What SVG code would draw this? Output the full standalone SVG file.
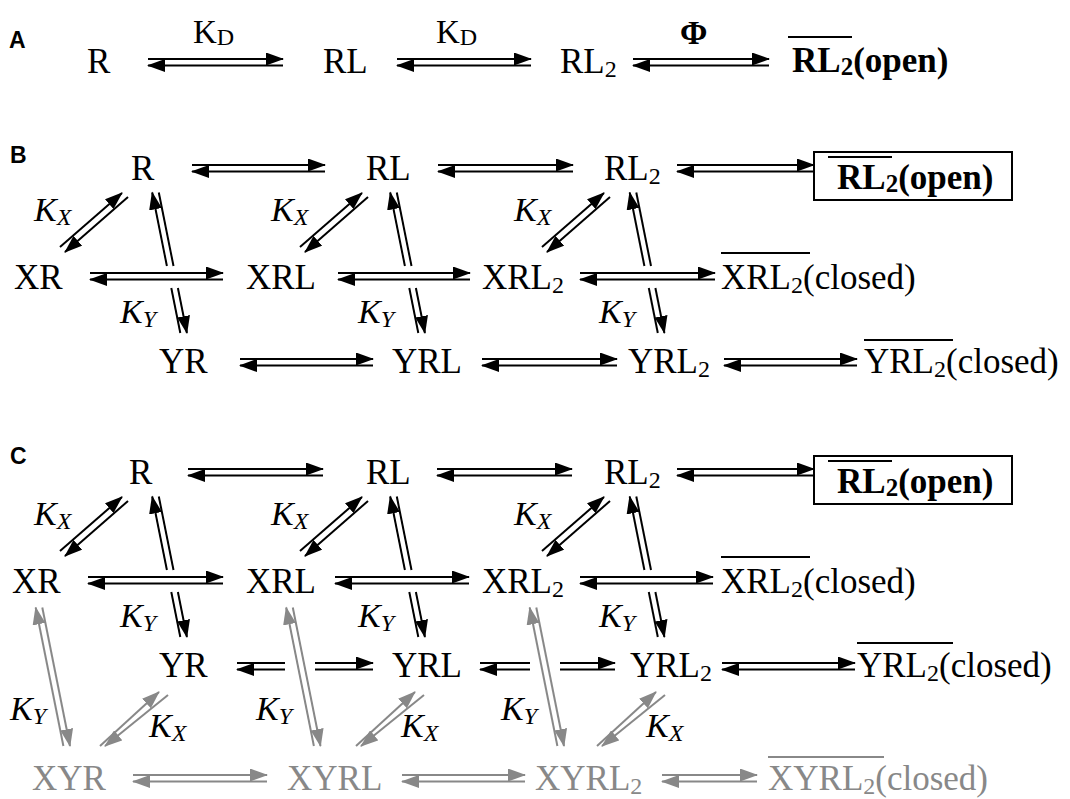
<svg xmlns="http://www.w3.org/2000/svg" width="1070" height="799" viewBox="0 0 1070 799">
<defs>
<style>
.t{font-family:"Liberation Serif","Times New Roman",serif;font-size:35px;fill:#000}
.b{font-weight:bold}
.g{fill:#888}
.k{font-family:"Liberation Serif","Times New Roman",serif;font-style:italic;font-size:34px;fill:#000}
.kd{font-family:"Liberation Serif","Times New Roman",serif;font-size:33px;fill:#000}
.lab{font-family:"Liberation Sans",Arial,sans-serif;font-weight:bold;font-size:23px;fill:#000}
.a{stroke:#000;stroke-width:2;fill:none;marker-end:url(#h)}
.p{stroke:#000;stroke-width:2;fill:none}
.ag{stroke:#888;stroke-width:2;fill:none;marker-end:url(#hg)}
.pg{stroke:#888;stroke-width:2;fill:none}
.ov{stroke:#000;stroke-width:2}
.ovg{stroke:#888;stroke-width:2}
.box{fill:none;stroke:#000;stroke-width:2}
</style>
<marker id="h" viewBox="0 0 18 13" refX="17" refY="6.5" markerWidth="18" markerHeight="13" markerUnits="userSpaceOnUse" orient="auto"><path d="M0,0 L18,6.5 L0,13 z" fill="#000"/></marker>
<marker id="hg" viewBox="0 0 18 13" refX="17" refY="6.5" markerWidth="18" markerHeight="13" markerUnits="userSpaceOnUse" orient="auto"><path d="M0,0 L18,6.5 L0,13 z" fill="#888"/></marker>
</defs>
<rect width="1070" height="799" fill="#fff"/>

<g id="panel-labels">
<text class="lab" x="9" y="48">A</text>
<text class="lab" x="10" y="163">B</text>
<text class="lab" x="10" y="464">C</text>
</g>

<!-- ===== Panel A nodes ===== -->
<g id="A-R"><text class="t" x="87" y="73">R</text></g>
<g id="A-RL"><text class="t" x="323" y="73">RL</text></g>
<g id="A-RL2"><text class="t" x="560" y="73">RL<tspan font-size="24" dy="4">2</tspan></text></g>
<g id="A-RL2open"><line class="ov" x1="788" y1="37" x2="852" y2="37"/><text class="t b" x="792" y="72">RL<tspan font-size="25" dy="3">2</tspan><tspan dy="-3">(open)</tspan></text></g>

<!-- ===== Panel B nodes ===== -->
<g id="B-R"><text class="t" x="131" y="180">R</text></g>
<g id="B-RL"><text class="t" x="366" y="180">RL</text></g>
<g id="B-RL2"><text class="t" x="604" y="180">RL<tspan font-size="24" dy="4">2</tspan></text></g>
<g id="B-RL2open"><rect class="box" x="814" y="152" width="198" height="48"/><line class="ov" x1="828" y1="157" x2="892" y2="157"/><text class="t b" x="837" y="189" font-size="36">RL<tspan font-size="25" dy="3">2</tspan><tspan dy="-3">(open)</tspan></text></g>
<g id="B-XR"><text class="t" x="14" y="289">XR</text></g>
<g id="B-XRL"><text class="t" x="246" y="289">XRL</text></g>
<g id="B-XRL2"><text class="t" x="482" y="289">XRL<tspan font-size="24" dy="4">2</tspan></text></g>
<g id="B-XRL2closed"><line class="ov" x1="721" y1="253" x2="810" y2="253"/><text class="t" x="721" y="289">XRL<tspan font-size="24" dy="4">2</tspan><tspan dy="-4">(closed)</tspan></text></g>
<g id="B-YR"><text class="t" x="159" y="373">YR</text></g>
<g id="B-YRL"><text class="t" x="392" y="373">YRL</text></g>
<g id="B-YRL2"><text class="t" x="628" y="373">YRL<tspan font-size="24" dy="4">2</tspan></text></g>
<g id="B-YRL2closed"><line class="ov" x1="864" y1="340" x2="953" y2="340"/><text class="t" x="864" y="373">YRL<tspan font-size="24" dy="4">2</tspan><tspan dy="-4">(closed)</tspan></text></g>

<!-- ===== Panel C nodes ===== -->
<g id="C-R"><text class="t" x="129" y="484">R</text></g>
<g id="C-RL"><text class="t" x="366" y="484">RL</text></g>
<g id="C-RL2"><text class="t" x="604" y="484">RL<tspan font-size="24" dy="4">2</tspan></text></g>
<g id="C-RL2open"><rect class="box" x="814" y="456" width="198" height="48"/><line class="ov" x1="828" y1="461" x2="892" y2="461"/><text class="t b" x="837" y="493" font-size="36">RL<tspan font-size="25" dy="3">2</tspan><tspan dy="-3">(open)</tspan></text></g>
<g id="C-XR"><text class="t" x="12" y="593">XR</text></g>
<g id="C-XRL"><text class="t" x="246" y="593">XRL</text></g>
<g id="C-XRL2"><text class="t" x="482" y="593">XRL<tspan font-size="24" dy="4">2</tspan></text></g>
<g id="C-XRL2closed"><line class="ov" x1="721" y1="557" x2="810" y2="557"/><text class="t" x="721" y="593">XRL<tspan font-size="24" dy="4">2</tspan><tspan dy="-4">(closed)</tspan></text></g>
<g id="C-YR"><text class="t" x="159" y="677">YR</text></g>
<g id="C-YRL"><text class="t" x="392" y="677">YRL</text></g>
<g id="C-YRL2"><text class="t" x="630" y="677">YRL<tspan font-size="24" dy="4">2</tspan></text></g>
<g id="C-YRL2closed"><line class="ov" x1="857" y1="643" x2="953" y2="643"/><text class="t" x="857" y="677">YRL<tspan font-size="24" dy="4">2</tspan><tspan dy="-4">(closed)</tspan></text></g>
<g id="C-XYR"><text class="t g" x="32" y="790">XYR</text></g>
<g id="C-XYRL"><text class="t g" x="287" y="790">XYRL</text></g>
<g id="C-XYRL2"><text class="t g" x="535" y="790">XYRL<tspan font-size="24" dy="4">2</tspan></text></g>
<g id="C-XYRL2closed"><line class="ovg" x1="768" y1="757" x2="884" y2="757"/><text class="t g" x="768" y="790">XYRL<tspan font-size="24" dy="4">2</tspan><tspan dy="-4">(closed)</tspan></text></g>

<!-- ===== Connectors ===== -->
<g id="connectors">
<!-- Panel A -->
<path class="a" d="M148,59 H283"/><path class="a" d="M283,65.5 H148"/>
<path class="a" d="M397,59 H531"/><path class="a" d="M531,65.5 H397"/>
<path class="a" d="M633,59 H769"/><path class="a" d="M769,65.5 H633"/>

<!-- Panel B horizontals -->
<path class="a" d="M192,165 H325"/><path class="a" d="M325,171.5 H192"/>
<path class="a" d="M438,165 H573"/><path class="a" d="M573,171.5 H438"/>
<path class="a" d="M677,165 H814"/><path class="a" d="M814,171.5 H677"/>
<path class="a" d="M90,273 H223"/><path class="a" d="M223,279.5 H90"/>
<path class="a" d="M338,273 H470"/><path class="a" d="M470,279.5 H338"/>
<path class="a" d="M580,273 H715"/><path class="a" d="M715,279.5 H580"/>
<path class="a" d="M240,359 H373"/><path class="a" d="M373,365.5 H240"/>
<path class="a" d="M482,359 H617"/><path class="a" d="M617,365.5 H482"/>
<path class="a" d="M724,359 H857"/><path class="a" d="M857,365.5 H724"/>

<!-- Panel B diagonals (K_X) -->
<path class="a" d="M60,247 L122,193"/><path class="a" d="M128,197 L65,252"/>
<path class="a" d="M300,247 L362,193"/><path class="a" d="M368,197 L305,252"/>
<path class="a" d="M542,247 L604,193"/><path class="a" d="M610,197 L547,252"/>

<!-- Panel B verticals (K_Y) -->
<path class="a" d="M166.9,266 L152.2,192.5"/><path class="p" d="M158.8,192.5 L173.5,266"/>
<path class="p" d="M171.3,288 L180.3,333"/><path class="a" d="M177.9,288 L186.9,333"/>
<path class="a" d="M404.9,266 L390.2,192.5"/><path class="p" d="M396.8,192.5 L411.5,266"/>
<path class="p" d="M409.3,288 L418.3,333"/><path class="a" d="M415.9,288 L424.9,333"/>
<path class="a" d="M644.4,266 L629.7,192.5"/><path class="p" d="M636.3,192.5 L651,266"/>
<path class="p" d="M648.8,288 L657.8,333"/><path class="a" d="M655.4,288 L664.4,333"/>

<!-- Panel C horizontals -->
<path class="a" d="M188,469 H323"/><path class="a" d="M323,475.5 H188"/>
<path class="a" d="M437,469 H572"/><path class="a" d="M572,475.5 H437"/>
<path class="a" d="M677,469 H814"/><path class="a" d="M814,475.5 H677"/>
<path class="a" d="M88,577 H223"/><path class="a" d="M223,583.5 H88"/>
<path class="a" d="M335,577 H469"/><path class="a" d="M469,583.5 H335"/>
<path class="a" d="M580,577 H713"/><path class="a" d="M713,583.5 H580"/>
<path class="p" d="M237,663 H285"/><path class="a" d="M285,669.5 H237"/>
<path class="a" d="M315,663 H373"/><path class="p" d="M315,669.5 H373"/>
<path class="p" d="M480,663 H530"/><path class="a" d="M530,669.5 H480"/>
<path class="a" d="M560,663 H615"/><path class="p" d="M560,669.5 H615"/>
<path class="a" d="M722,663 H855"/><path class="a" d="M855,669.5 H722"/>
<path class="ag" d="M133,775 H267"/><path class="ag" d="M267,781.5 H133"/>
<path class="ag" d="M402,775 H525"/><path class="ag" d="M525,781.5 H402"/>
<path class="ag" d="M662,775 H757"/><path class="ag" d="M757,781.5 H662"/>

<!-- Panel C black diagonals -->
<path class="a" d="M60,551 L122,497"/><path class="a" d="M128,501 L65,556"/>
<path class="a" d="M300,551 L362,497"/><path class="a" d="M368,501 L305,556"/>
<path class="a" d="M542,551 L604,497"/><path class="a" d="M610,501 L547,556"/>

<!-- Panel C black verticals -->
<path class="a" d="M166.9,570 L152.2,496.5"/><path class="p" d="M158.8,496.5 L173.5,570"/>
<path class="p" d="M171.3,592 L180.3,637"/><path class="a" d="M177.9,592 L186.9,637"/>
<path class="a" d="M404.9,570 L390.2,496.5"/><path class="p" d="M396.8,496.5 L411.5,570"/>
<path class="p" d="M409.3,592 L418.3,637"/><path class="a" d="M415.9,592 L424.9,637"/>
<path class="a" d="M644.4,570 L629.7,496.5"/><path class="p" d="M636.3,496.5 L651,570"/>
<path class="p" d="M648.8,592 L657.8,637"/><path class="a" d="M655.4,592 L664.4,637"/>

<!-- Panel C gray verticals -->
<path class="ag" d="M63.4,746 L35.7,607.5"/><path class="ag" d="M42.3,607.5 L70,746"/>
<path class="ag" d="M313.9,746 L286.2,607.5"/><path class="ag" d="M292.8,607.5 L320.5,746"/>
<path class="ag" d="M557.4,746 L529.7,607.5"/><path class="ag" d="M536.3,607.5 L564,746"/>

<!-- Panel C gray diagonals -->
<path class="ag" d="M100,746 L159,692"/><path class="ag" d="M168,695 L105,746"/>
<path class="ag" d="M356,746 L415,692"/><path class="ag" d="M424,695 L361,746"/>
<path class="ag" d="M597,746 L656,692"/><path class="ag" d="M665,695 L602,746"/>

<!-- Rate constant labels -->
<text class="kd" x="193" y="43">K<tspan font-size="24" dy="2">D</tspan></text>
<text class="kd" x="436" y="43">K<tspan font-size="24" dy="2">D</tspan></text>
<text class="kd b" x="680" y="44" font-size="34">Φ</text>

<text class="k" x="34" y="221">K<tspan font-size="24" dy="4">X</tspan></text>
<text class="k" x="271" y="221">K<tspan font-size="24" dy="4">X</tspan></text>
<text class="k" x="514" y="221">K<tspan font-size="24" dy="4">X</tspan></text>
<text class="k" x="120" y="323">K<tspan font-size="24" dy="4">Y</tspan></text>
<text class="k" x="358" y="323">K<tspan font-size="24" dy="4">Y</tspan></text>
<text class="k" x="599" y="323">K<tspan font-size="24" dy="4">Y</tspan></text>

<text class="k" x="34" y="525">K<tspan font-size="24" dy="4">X</tspan></text>
<text class="k" x="271" y="525">K<tspan font-size="24" dy="4">X</tspan></text>
<text class="k" x="514" y="525">K<tspan font-size="24" dy="4">X</tspan></text>
<text class="k" x="120" y="627">K<tspan font-size="24" dy="4">Y</tspan></text>
<text class="k" x="358" y="627">K<tspan font-size="24" dy="4">Y</tspan></text>
<text class="k" x="599" y="627">K<tspan font-size="24" dy="4">Y</tspan></text>

<text class="k" x="10" y="720">K<tspan font-size="24" dy="4">Y</tspan></text>
<text class="k" x="256" y="720">K<tspan font-size="24" dy="4">Y</tspan></text>
<text class="k" x="501" y="720">K<tspan font-size="24" dy="4">Y</tspan></text>
<text class="k" x="149" y="737">K<tspan font-size="24" dy="4">X</tspan></text>
<text class="k" x="401" y="737">K<tspan font-size="24" dy="4">X</tspan></text>
<text class="k" x="646" y="737">K<tspan font-size="24" dy="4">X</tspan></text>
</g>
</svg>
